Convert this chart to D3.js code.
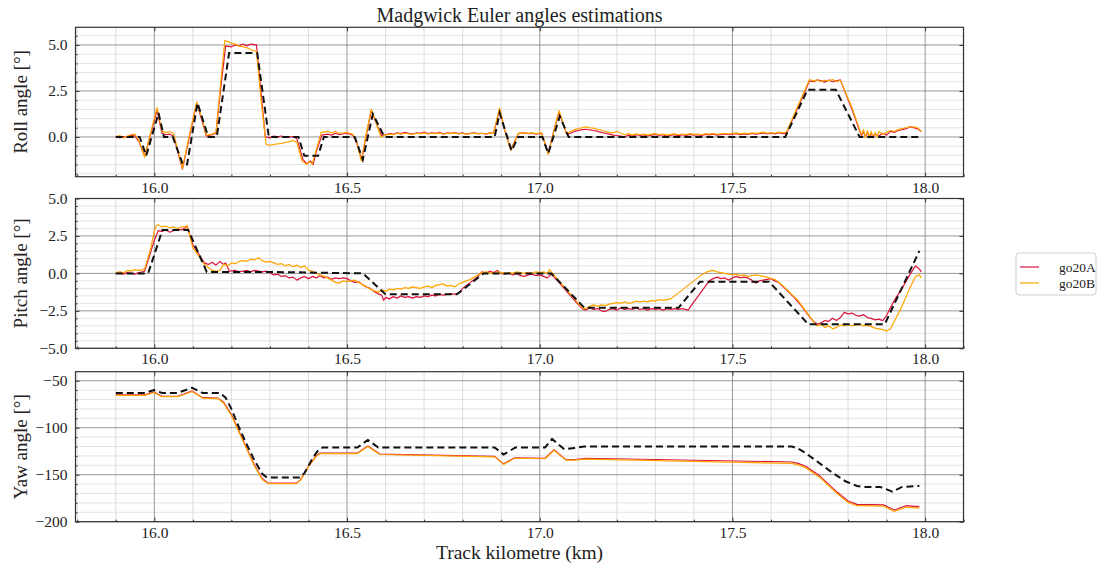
<!DOCTYPE html>
<html>
<head>
<meta charset="utf-8">
<script src="https://cdn.jsdelivr.net/npm/d3@7"></script>
<style>
  body { margin: 0; background: #fff; }
  svg text { font-family: "Liberation Serif", "DejaVu Serif", serif; fill: #222; }
</style>
</head>
<body>
<div id="chart"></div>
<script>
// track kilometre ticks + series names
var xTicks = [16.0, 16.5, 17.0, 17.5, 18.0]
var seriesNames = ['go20A', 'go20B']

// roll [km, deg]
var rollRef = [[15.9,0],[15.962,0],[15.979,-1.02],[16.011,1.3],[16.025,0],[16.048,0],[16.074,-1.5],[16.085,-1.5],[16.112,1.85],[16.14,0],[16.162,0],[16.194,4.56],[16.267,4.56],[16.297,0],[16.374,0],[16.389,-1.02],[16.425,-1.02],[16.44,0],[16.52,0],[16.541,-1.23],[16.567,1.25],[16.597,0],[16.883,0],[16.896,1.3],[16.927,-0.75],[16.944,0],[17.007,0],[17.022,-0.9],[17.052,1.12],[17.075,0],[17.637,0],[17.695,2.57],[17.768,2.57],[17.83,0],[17.99,0]]
var rollA = [[15.9,0.05],[15.91,-0.05],[15.92,0.02],[15.93,0.0],[15.94,0.1],[15.95,0.05],[15.96,-0.25],[15.975,-1.05],[15.99,0.1],[16.007,1.45],[16.02,0.2],[16.03,0.12],[16.04,0.15],[16.05,0.05],[16.073,-1.75],[16.09,-0.1],[16.11,1.85],[16.125,0.8],[16.135,0.05],[16.15,0.12],[16.16,0.2],[16.172,2.6],[16.185,4.95],[16.2,4.9],[16.21,5.0],[16.22,4.95],[16.23,5.05],[16.24,4.95],[16.25,5.05],[16.265,5.0],[16.277,2.4],[16.288,0.0],[16.3,-0.05],[16.31,0.05],[16.32,0.0],[16.33,0.05],[16.34,-0.02],[16.36,0.02],[16.37,-0.1],[16.385,-1.2],[16.395,-1.45],[16.405,-1.3],[16.412,-1.5],[16.42,-0.8],[16.435,0.1],[16.45,0.15],[16.46,0.1],[16.47,0.2],[16.48,0.12],[16.5,0.2],[16.515,0.1],[16.525,-0.3],[16.538,-1.25],[16.55,0.1],[16.563,1.45],[16.575,0.8],[16.59,0.05],[16.6,0.12],[16.61,0.18],[16.62,0.15],[16.63,0.22],[16.64,0.18],[16.65,0.25],[16.66,0.2],[16.67,0.15],[16.68,0.22],[16.69,0.2],[16.7,0.27],[16.71,0.18],[16.72,0.22],[16.73,0.2],[16.74,0.25],[16.75,0.17],[16.76,0.22],[16.77,0.2],[16.78,0.24],[16.79,0.18],[16.8,0.22],[16.81,0.15],[16.82,0.2],[16.83,0.22],[16.84,0.18],[16.85,0.2],[16.86,0.15],[16.87,0.22],[16.88,0.2],[16.896,1.5],[16.91,0.3],[16.925,-0.7],[16.945,0.2],[16.96,0.22],[16.97,0.18],[16.98,0.2],[16.99,0.15],[17.005,0.2],[17.022,-0.9],[17.035,0.2],[17.05,1.35],[17.07,0.15],[17.08,0.2],[17.09,0.3],[17.1,0.35],[17.11,0.4],[17.12,0.42],[17.13,0.38],[17.14,0.35],[17.15,0.3],[17.16,0.25],[17.17,0.2],[17.18,0.15],[17.19,0.1],[17.2,0.08],[17.21,0.05],[17.22,0.0],[17.23,0.1],[17.24,0.05],[17.25,0.12],[17.26,0.08],[17.27,0.12],[17.28,0.06],[17.29,0.1],[17.3,0.14],[17.31,0.08],[17.32,0.12],[17.33,0.05],[17.34,0.1],[17.35,0.13],[17.36,0.07],[17.37,0.12],[17.38,0.09],[17.39,0.14],[17.4,0.1],[17.41,0.12],[17.42,0.08],[17.43,0.14],[17.44,0.11],[17.45,0.15],[17.46,0.1],[17.47,0.13],[17.48,0.17],[17.49,0.12],[17.5,0.15],[17.51,0.18],[17.52,0.13],[17.53,0.17],[17.54,0.14],[17.55,0.19],[17.56,0.15],[17.57,0.18],[17.58,0.22],[17.59,0.16],[17.6,0.2],[17.61,0.17],[17.62,0.23],[17.63,0.18],[17.64,0.2],[17.67,1.6],[17.7,3.05],[17.71,3.0],[17.72,3.1],[17.73,3.05],[17.74,2.98],[17.75,3.1],[17.76,3.0],[17.77,3.05],[17.78,3.1],[17.81,1.5],[17.835,0.05],[17.84,0.3],[17.845,0.0],[17.85,0.25],[17.855,-0.05],[17.86,0.2],[17.865,0.0],[17.87,0.15],[17.88,0.05],[17.89,0.2],[17.9,0.1],[17.91,0.3],[17.92,0.25],[17.93,0.35],[17.94,0.4],[17.95,0.45],[17.96,0.55],[17.97,0.5],[17.98,0.45],[17.99,0.3]]
var rollB = [[15.9,0.0],[15.91,0.08],[15.92,-0.05],[15.93,0.05],[15.94,0.12],[15.95,0.15],[15.96,-0.2],[15.975,-1.1],[15.99,0.2],[16.007,1.6],[16.02,0.3],[16.03,0.25],[16.04,0.28],[16.05,0.2],[16.073,-1.7],[16.09,0.0],[16.11,1.9],[16.125,0.9],[16.135,0.1],[16.15,0.15],[16.16,0.25],[16.172,2.9],[16.183,5.25],[16.2,5.1],[16.21,5.05],[16.22,4.95],[16.23,4.9],[16.24,4.85],[16.25,4.75],[16.265,4.65],[16.277,2.0],[16.29,-0.4],[16.3,-0.45],[16.31,-0.4],[16.32,-0.38],[16.33,-0.35],[16.34,-0.3],[16.35,-0.25],[16.36,-0.2],[16.37,-0.3],[16.383,-1.3],[16.395,-1.5],[16.403,-1.35],[16.41,-1.45],[16.42,-0.7],[16.433,0.25],[16.45,0.3],[16.46,0.22],[16.47,0.3],[16.48,0.2],[16.5,0.25],[16.515,0.15],[16.525,-0.3],[16.537,-1.3],[16.55,0.2],[16.563,1.5],[16.575,0.8],[16.588,0.0],[16.6,0.1],[16.61,0.15],[16.62,0.12],[16.63,0.2],[16.64,0.15],[16.65,0.2],[16.66,0.17],[16.67,0.14],[16.68,0.2],[16.69,0.17],[16.7,0.22],[16.71,0.16],[16.72,0.2],[16.73,0.18],[16.74,0.22],[16.75,0.15],[16.76,0.2],[16.77,0.18],[16.78,0.22],[16.79,0.16],[16.8,0.2],[16.81,0.14],[16.82,0.19],[16.83,0.21],[16.84,0.17],[16.85,0.2],[16.86,0.16],[16.87,0.21],[16.88,0.2],[16.896,1.58],[16.91,0.3],[16.925,-0.72],[16.945,0.2],[16.96,0.22],[16.97,0.2],[16.98,0.22],[16.99,0.18],[17.005,0.22],[17.022,-0.95],[17.035,0.2],[17.05,1.43],[17.07,0.17],[17.08,0.3],[17.09,0.4],[17.1,0.45],[17.11,0.5],[17.12,0.55],[17.13,0.5],[17.14,0.48],[17.15,0.42],[17.16,0.38],[17.17,0.3],[17.18,0.25],[17.19,0.22],[17.2,0.3],[17.21,0.2],[17.22,0.12],[17.23,0.18],[17.24,0.1],[17.25,0.17],[17.26,0.12],[17.27,0.16],[17.28,0.1],[17.29,0.15],[17.3,0.18],[17.31,0.12],[17.32,0.16],[17.33,0.1],[17.34,0.14],[17.35,0.17],[17.36,0.12],[17.37,0.16],[17.38,0.13],[17.39,0.18],[17.4,0.14],[17.41,0.16],[17.42,0.12],[17.43,0.18],[17.44,0.15],[17.45,0.19],[17.46,0.14],[17.47,0.17],[17.48,0.2],[17.49,0.16],[17.5,0.19],[17.51,0.22],[17.52,0.17],[17.53,0.21],[17.54,0.18],[17.55,0.22],[17.56,0.19],[17.57,0.22],[17.58,0.26],[17.59,0.2],[17.6,0.24],[17.61,0.2],[17.62,0.26],[17.63,0.22],[17.64,0.25],[17.67,1.7],[17.7,3.12],[17.71,3.05],[17.72,3.1],[17.73,3.0],[17.74,3.08],[17.75,3.05],[17.76,3.12],[17.77,3.0],[17.78,3.08],[17.81,1.6],[17.835,0.1],[17.84,0.4],[17.845,-0.05],[17.85,0.35],[17.855,0.0],[17.86,0.3],[17.865,-0.05],[17.87,0.25],[17.875,0.0],[17.88,0.3],[17.89,0.15],[17.9,0.25],[17.91,0.35],[17.92,0.3],[17.93,0.4],[17.94,0.45],[17.95,0.5],[17.96,0.55],[17.97,0.55],[17.98,0.5],[17.99,0.3]]

// pitch [km, deg]
var pitchRef = [[15.9,0],[15.984,0],[16.021,2.9],[16.088,2.9],[16.136,0.1],[16.3,0.1],[16.541,0],[16.6,-1.4],[16.785,-1.4],[16.854,0],[17.03,0],[17.116,-2.3],[17.36,-2.3],[17.416,-0.55],[17.595,-0.55],[17.697,-3.4],[17.895,-3.4],[17.985,1.5]]
var pitchA = [[15.9,0.0],[15.91,0.05],[15.92,-0.05],[15.93,0.05],[15.94,0.0],[15.95,-0.05],[15.96,0.05],[15.97,0.1],[15.975,0.15],[16.0,2.2],[16.01,2.85],[16.02,2.8],[16.03,2.9],[16.04,2.75],[16.05,2.85],[16.06,2.95],[16.07,2.9],[16.08,3.05],[16.085,3.15],[16.1,1.9],[16.12,1.1],[16.13,0.7],[16.14,0.6],[16.15,0.75],[16.16,0.55],[16.17,0.8],[16.18,0.6],[16.185,0.7],[16.195,0.15],[16.21,0.2],[16.22,0.1],[16.23,0.15],[16.24,0.2],[16.25,0.1],[16.26,0.2],[16.27,0.15],[16.28,0.1],[16.29,0.15],[16.3,0.05],[16.31,-0.1],[16.32,-0.05],[16.33,-0.2],[16.34,-0.15],[16.35,-0.3],[16.36,-0.25],[16.37,-0.45],[16.38,-0.3],[16.39,-0.2],[16.4,-0.35],[16.41,-0.2],[16.42,-0.3],[16.43,-0.15],[16.44,-0.3],[16.45,-0.25],[16.46,-0.4],[16.47,-0.3],[16.48,-0.35],[16.49,-0.3],[16.5,-0.35],[16.51,-0.5],[16.52,-0.6],[16.53,-0.55],[16.54,-0.75],[16.55,-0.9],[16.56,-1.0],[16.57,-1.2],[16.58,-1.35],[16.59,-1.45],[16.595,-1.8],[16.6,-1.6],[16.61,-1.7],[16.62,-1.55],[16.63,-1.65],[16.64,-1.5],[16.65,-1.6],[16.66,-1.55],[16.67,-1.65],[16.68,-1.55],[16.69,-1.6],[16.7,-1.5],[16.71,-1.55],[16.72,-1.45],[16.73,-1.5],[16.74,-1.4],[16.75,-1.45],[16.76,-1.4],[16.77,-1.35],[16.78,-1.4],[16.79,-1.3],[16.8,-1.0],[16.82,-0.6],[16.84,-0.2],[16.85,0.1],[16.86,0.0],[16.87,0.15],[16.88,0.05],[16.89,0.2],[16.9,0.0],[16.91,-0.05],[16.92,0.05],[16.93,-0.1],[16.94,0.0],[16.95,-0.15],[16.96,-0.2],[16.97,-0.1],[16.98,-0.05],[16.99,-0.15],[17.0,-0.1],[17.01,-0.2],[17.02,-0.3],[17.03,-0.05],[17.05,-0.6],[17.07,-1.2],[17.09,-1.8],[17.11,-2.35],[17.12,-2.45],[17.13,-2.3],[17.14,-2.4],[17.15,-2.35],[17.16,-2.5],[17.17,-2.55],[17.18,-2.4],[17.19,-2.35],[17.2,-2.45],[17.21,-2.3],[17.22,-2.4],[17.23,-2.35],[17.24,-2.4],[17.25,-2.3],[17.26,-2.4],[17.27,-2.35],[17.28,-2.45],[17.29,-2.35],[17.3,-2.4],[17.31,-2.35],[17.32,-2.45],[17.33,-2.35],[17.34,-2.4],[17.35,-2.35],[17.36,-2.4],[17.37,-2.35],[17.385,-2.45],[17.4,-1.9],[17.42,-1.2],[17.44,-0.5],[17.45,-0.35],[17.46,-0.25],[17.47,-0.35],[17.48,-0.3],[17.49,-0.45],[17.5,-0.3],[17.51,-0.2],[17.52,-0.3],[17.53,-0.25],[17.54,-0.3],[17.55,-0.45],[17.56,-0.65],[17.57,-0.5],[17.58,-0.45],[17.59,-0.4],[17.6,-0.35],[17.61,-0.5],[17.62,-0.6],[17.64,-1.1],[17.66,-1.6],[17.68,-2.2],[17.7,-2.9],[17.71,-3.2],[17.72,-3.4],[17.73,-3.3],[17.74,-3.15],[17.75,-3.2],[17.76,-3.0],[17.77,-3.15],[17.78,-2.95],[17.79,-2.6],[17.8,-2.7],[17.81,-2.65],[17.82,-2.8],[17.83,-2.85],[17.84,-2.75],[17.85,-2.95],[17.86,-3.0],[17.87,-3.1],[17.88,-3.05],[17.89,-3.15],[17.9,-2.8],[17.92,-1.8],[17.94,-1.0],[17.96,-0.1],[17.975,0.5],[17.985,0.3],[17.99,0.1]]
var pitchB = [[15.9,0.05],[15.91,0.1],[15.92,0.05],[15.93,0.2],[15.94,0.15],[15.95,0.25],[15.96,0.2],[15.97,0.25],[15.975,0.3],[15.99,1.6],[16.0,2.8],[16.005,3.2],[16.01,3.25],[16.02,3.1],[16.03,3.15],[16.04,3.05],[16.05,3.1],[16.06,3.0],[16.07,3.1],[16.08,3.1],[16.085,3.2],[16.1,1.7],[16.12,1.0],[16.13,0.6],[16.14,0.4],[16.15,0.2],[16.16,0.15],[16.17,0.2],[16.18,0.6],[16.19,0.5],[16.2,0.7],[16.21,0.65],[16.22,0.8],[16.23,0.85],[16.24,0.8],[16.25,0.95],[16.26,0.9],[16.27,1.05],[16.28,0.85],[16.29,0.75],[16.3,0.8],[16.31,0.7],[16.32,0.6],[16.33,0.65],[16.34,0.5],[16.35,0.6],[16.36,0.45],[16.37,0.55],[16.38,0.4],[16.39,0.5],[16.4,0.2],[16.41,0.15],[16.42,0.0],[16.43,-0.1],[16.44,-0.2],[16.45,-0.3],[16.46,-0.45],[16.47,-0.6],[16.48,-0.65],[16.49,-0.5],[16.5,-0.55],[16.51,-0.5],[16.52,-0.45],[16.53,-0.6],[16.54,-0.75],[16.55,-0.9],[16.56,-1.05],[16.57,-1.15],[16.58,-1.25],[16.59,-1.1],[16.6,-1.2],[16.61,-1.05],[16.62,-1.1],[16.63,-1.0],[16.64,-1.05],[16.65,-0.95],[16.66,-1.0],[16.67,-0.9],[16.68,-0.95],[16.69,-1.0],[16.7,-0.9],[16.71,-0.85],[16.72,-0.95],[16.73,-0.8],[16.74,-0.75],[16.75,-0.7],[16.76,-0.85],[16.77,-0.8],[16.78,-0.9],[16.79,-0.7],[16.8,-0.6],[16.82,-0.4],[16.84,-0.1],[16.85,0.05],[16.86,0.1],[16.87,0.05],[16.88,0.0],[16.89,0.1],[16.9,0.05],[16.91,0.0],[16.92,0.05],[16.93,0.0],[16.94,0.1],[16.95,0.05],[16.96,0.0],[16.97,0.05],[16.98,0.0],[16.99,0.1],[17.0,0.05],[17.01,0.1],[17.02,0.0],[17.025,0.25],[17.03,0.1],[17.05,-0.5],[17.07,-1.1],[17.09,-1.7],[17.11,-2.3],[17.12,-2.35],[17.13,-2.2],[17.14,-2.1],[17.15,-2.2],[17.16,-2.1],[17.17,-2.15],[17.18,-2.05],[17.19,-2.0],[17.2,-1.95],[17.21,-2.0],[17.22,-1.9],[17.23,-2.0],[17.24,-1.95],[17.25,-1.85],[17.26,-1.9],[17.27,-1.85],[17.28,-1.9],[17.29,-1.8],[17.3,-1.85],[17.31,-1.75],[17.32,-1.8],[17.33,-1.75],[17.34,-1.7],[17.36,-1.3],[17.38,-0.9],[17.4,-0.5],[17.42,-0.1],[17.43,0.05],[17.44,0.15],[17.45,0.2],[17.46,0.1],[17.47,0.05],[17.48,0.0],[17.49,-0.05],[17.5,-0.1],[17.51,-0.05],[17.52,-0.15],[17.53,-0.1],[17.54,-0.2],[17.55,-0.15],[17.56,-0.1],[17.57,-0.15],[17.58,-0.2],[17.59,-0.25],[17.6,-0.35],[17.61,-0.4],[17.63,-0.8],[17.65,-1.3],[17.67,-1.8],[17.69,-2.5],[17.71,-3.2],[17.72,-3.5],[17.73,-3.4],[17.74,-3.6],[17.75,-3.5],[17.76,-3.7],[17.77,-3.6],[17.78,-3.45],[17.79,-3.5],[17.8,-3.4],[17.81,-3.5],[17.82,-3.45],[17.83,-3.4],[17.84,-3.5],[17.85,-3.45],[17.86,-3.55],[17.87,-3.65],[17.88,-3.7],[17.89,-3.75],[17.9,-3.85],[17.91,-3.7],[17.92,-3.2],[17.94,-2.2],[17.96,-1.0],[17.975,-0.2],[17.985,-0.1],[17.99,-0.3]]

// yaw [km, deg]
var yawRef = [[15.9,-63],[15.976,-63],[15.999,-60],[16.02,-63],[16.06,-63],[16.098,-57.5],[16.125,-63],[16.17,-63],[16.185,-68],[16.2,-80],[16.22,-100],[16.24,-118],[16.26,-135],[16.28,-149],[16.292,-153],[16.378,-153],[16.39,-148],[16.41,-133],[16.425,-124],[16.437,-121],[16.527,-121],[16.554,-113],[16.581,-121],[16.883,-121],[16.906,-128.5],[16.937,-121],[17.014,-121],[17.032,-112],[17.064,-123],[17.09,-121.5],[17.115,-120],[17.654,-120],[17.67,-122],[17.69,-127],[17.72,-136],[17.76,-148],[17.793,-157],[17.823,-162],[17.84,-163],[17.883,-163],[17.915,-168],[17.94,-163],[17.985,-162]]
var yawA = [[15.9,-65],[15.976,-65],[15.999,-62],[16.02,-66.5],[16.06,-66.5],[16.098,-61],[16.125,-68],[16.165,-68.5],[16.18,-73],[16.2,-86],[16.22,-104],[16.24,-122],[16.26,-140],[16.28,-154],[16.295,-159],[16.369,-159],[16.38,-155],[16.4,-141],[16.42,-130],[16.43,-127],[16.527,-127],[16.554,-119.5],[16.585,-128],[16.883,-130.5],[16.906,-138.5],[16.935,-132],[17.014,-132.5],[17.037,-123.5],[17.068,-134],[17.09,-134],[17.121,-132.5],[17.654,-136.5],[17.67,-138],[17.69,-141],[17.727,-151.5],[17.773,-169],[17.8,-178],[17.823,-181.5],[17.892,-182],[17.92,-187.5],[17.95,-183],[17.985,-184]]
var yawB = [[15.9,-65.5],[15.976,-65.5],[15.999,-62.5],[16.02,-67],[16.06,-67],[16.098,-61.5],[16.125,-68.5],[16.165,-69],[16.18,-74],[16.2,-87],[16.22,-105],[16.24,-123],[16.26,-141],[16.28,-155],[16.295,-159.5],[16.369,-159.5],[16.38,-155.5],[16.4,-141.5],[16.42,-130.5],[16.43,-127.5],[16.527,-127.5],[16.554,-120],[16.585,-128.5],[16.883,-131],[16.906,-139],[16.935,-132.5],[17.014,-133],[17.037,-124],[17.068,-134.5],[17.09,-134.5],[17.121,-133.5],[17.654,-138],[17.67,-139.5],[17.69,-142.5],[17.727,-153],[17.773,-170.5],[17.8,-179.5],[17.823,-183],[17.892,-183.5],[17.92,-189],[17.95,-184.5],[17.985,-185.5]]

var W = 1097, H = 564
var colors = { go20A: '#dc143c', go20B: '#ffa500' }

var svg = d3.select('#chart').append('svg')
  .attr('width', W).attr('height', H)
  .style('background', '#fff')

var x = d3.scaleLinear().domain([15.7955, 18.0995]).range([75.5, 963.5])

var panels = [
  { label: 'Roll angle [°]', top: 27.3, bottom: 176.7, domain: [-2.16, 5.96], ticks: [0, 2.5, 5], minor: 0.5, fmt: '.1f', ref: rollRef, a: rollA, b: rollB },
  { label: 'Pitch angle [°]', top: 198.5, bottom: 348.3, domain: [-5, 5], ticks: [-5, -2.5, 0, 2.5, 5], minor: 0.5, fmt: '.1f', ref: pitchRef, a: pitchA, b: pitchB },
  { label: 'Yaw angle [°]', top: 371.7, bottom: 521.7, domain: [-200, -40.4], ticks: [-200, -150, -100, -50], minor: 10, fmt: 'd', ref: yawRef, a: yawA, b: yawB },
]

panels.forEach(function(p, i) {
  var y = d3.scaleLinear().domain(p.domain).range([p.bottom, p.top])
  var g = svg.append('g')
  var x0 = x.range()[0], x1 = x.range()[1]

  // grid
  var xMinor = d3.range(15.8, 18.1, 0.1).filter(function(v) { return Math.abs(Math.round(v * 2) - v * 2) > 0.01 })
  var yMinor = d3.range(Math.ceil(p.domain[0] / p.minor) * p.minor, p.domain[1], p.minor)
    .filter(function(v) { return p.ticks.indexOf(+v.toFixed(4)) < 0 })
  g.selectAll('.ymin').data(yMinor).enter().append('line')
    .attr('x1', x0).attr('x2', x1).attr('y1', y).attr('y2', y)
    .attr('stroke', '#dcdcdc').attr('stroke-width', 0.8)
  g.selectAll('.xmin').data(xMinor).enter().append('line')
    .attr('x1', x).attr('x2', x).attr('y1', p.top).attr('y2', p.bottom)
    .attr('stroke', '#d6d6d6').attr('stroke-width', 0.8)
  g.selectAll('.ymaj').data(p.ticks).enter().append('line')
    .attr('x1', x0).attr('x2', x1).attr('y1', y).attr('y2', y)
    .attr('stroke', '#8c8c8c').attr('stroke-width', 0.9)
  g.selectAll('.xmaj').data(xTicks).enter().append('line')
    .attr('x1', x).attr('x2', x).attr('y1', p.top).attr('y2', p.bottom)
    .attr('stroke', '#8c8c8c').attr('stroke-width', 0.9)

  // lines
  var clipId = 'clip' + i
  svg.append('clipPath').attr('id', clipId).append('rect')
    .attr('x', x0).attr('y', p.top).attr('width', x1 - x0).attr('height', p.bottom - p.top)
  var line = d3.line().x(function(d) { return x(d[0]) }).y(function(d) { return y(d[1]) })
  var lg = g.append('g').attr('clip-path', 'url(#' + clipId + ')')
  lg.append('path').datum(p.a).attr('d', line)
    .attr('fill', 'none').attr('stroke', colors.go20A).attr('stroke-width', 1.2).attr('stroke-linejoin', 'round')
  lg.append('path').datum(p.b).attr('d', line)
    .attr('fill', 'none').attr('stroke', colors.go20B).attr('stroke-width', 1.2).attr('stroke-linejoin', 'round')
  lg.append('path').datum(p.ref).attr('d', line)
    .attr('fill', 'none').attr('stroke', '#111').attr('stroke-width', 2)
    .attr('stroke-dasharray', '7,4')

  // inward ticks, all four sides
  var ax = g.append('g')
  ax.append('g').attr('transform', 'translate(0,' + p.bottom + ')')
    .call(d3.axisBottom(x).tickValues(xTicks).tickSize(-4).tickPadding(5).tickFormat(d3.format('.1f')))
  ax.append('g').attr('transform', 'translate(0,' + p.top + ')')
    .call(d3.axisTop(x).tickValues(xTicks).tickSize(-4).tickFormat(''))
  ax.append('g').attr('transform', 'translate(' + x0 + ',0)')
    .call(d3.axisLeft(y).tickValues(p.ticks).tickSize(-4).tickPadding(8).tickFormat(d3.format(p.fmt)))
  ax.append('g').attr('transform', 'translate(' + x1 + ',0)')
    .call(d3.axisRight(y).tickValues(p.ticks).tickSize(-4).tickFormat(''))
  ax.append('g').attr('transform', 'translate(0,' + p.bottom + ')')
    .call(d3.axisBottom(x).tickValues(xMinor).tickSize(-2).tickFormat(''))
  ax.append('g').attr('transform', 'translate(' + x0 + ',0)')
    .call(d3.axisLeft(y).tickValues(yMinor).tickSize(-2).tickFormat(''))
  ax.selectAll('.domain').remove()
  ax.selectAll('line').attr('stroke', '#333')
  ax.selectAll('text').attr('font-size', 15.5).attr('fill', '#222')
    .style('font-family', '"Liberation Serif", serif')

  g.append('rect').attr('x', x0).attr('y', p.top)
    .attr('width', x1 - x0).attr('height', p.bottom - p.top)
    .attr('fill', 'none').attr('stroke', '#333').attr('stroke-width', 1.2)

  svg.append('text')
    .attr('transform', 'translate(27,' + (p.top + p.bottom) / 2 + ') rotate(-90)')
    .attr('text-anchor', 'middle').attr('font-size', 19)
    .text(p.label)
})

svg.append('text').attr('x', 519.5).attr('y', 22)
  .attr('text-anchor', 'middle').attr('font-size', 20)
  .text('Madgwick Euler angles estimations')

svg.append('text').attr('x', 519.5).attr('y', 559)
  .attr('text-anchor', 'middle').attr('font-size', 19.5)
  .text('Track kilometre (km)')

// legend
var leg = svg.append('g')
leg.append('rect').attr('x', 1016).attr('y', 253).attr('width', 80).attr('height', 42)
  .attr('rx', 3).attr('fill', '#fff').attr('stroke', '#cfcfcf')
seriesNames.forEach(function(n, i) {
  var yy = 267 + i * 16
  leg.append('line').attr('x1', 1020).attr('x2', 1039).attr('y1', yy).attr('y2', yy)
    .attr('stroke', colors[n]).attr('stroke-width', 1.2)
  leg.append('text').attr('x', 1059).attr('y', yy + 4.5)
    .attr('font-size', 13.5).text(n)
})
</script>
</body>
</html>
